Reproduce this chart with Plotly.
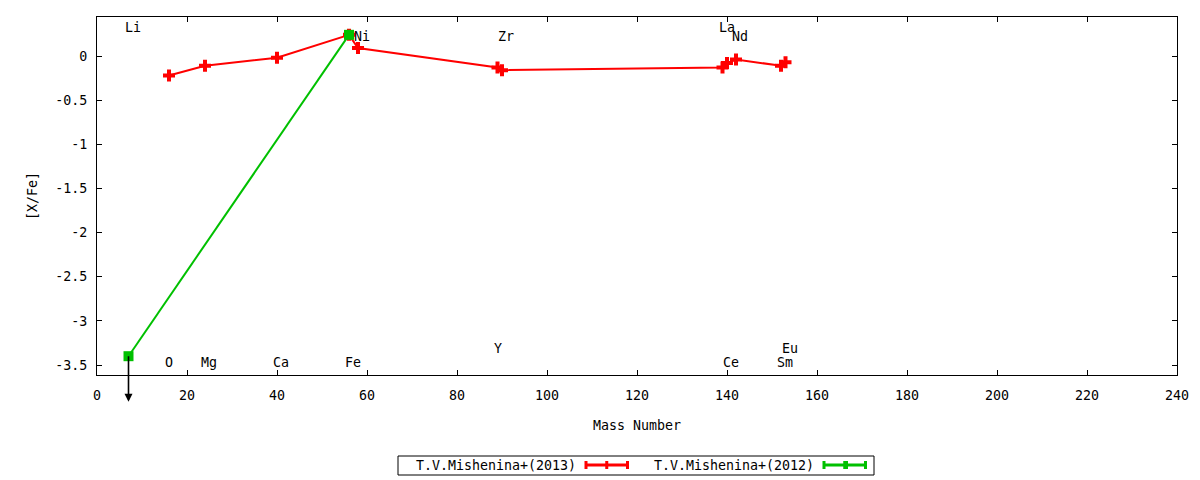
import plotly.graph_objects as go

# ---- data ----
red_name = "T.V.Mishenina+(2013)"
red_mass = [16, 24, 40, 56, 58, 89, 90, 139, 140, 142, 152, 153]
red_xfe = [-0.22, -0.11, -0.02, 0.24, 0.09, -0.13, -0.16, -0.13, -0.08, -0.04, -0.11, -0.07]

green_name = "T.V.Mishenina+(2012)"
green_mass = [7, 56]
green_xfe = [-3.40, 0.24]
green_upper_limit = [True, False]

label_names = ["Li", "O", "Mg", "Ca", "Fe", "Ni", "Y", "Zr", "La", "Ce", "Nd", "Sm", "Eu"]
label_mass = [7, 16, 24, 40, 56, 58, 89, 90, 139, 140, 142, 152, 153]
label_level = [0.32, -3.47, -3.47, -3.47, -3.47, 0.22, -3.31, 0.22, 0.32, -3.47, 0.22, -3.47, -3.31]

x_ticks = list(range(0, 241, 20))
y_ticks = [0, -0.5, -1, -1.5, -2, -2.5, -3, -3.5]
y_tick_text = ["0", "-0.5", "-1", "-1.5", "-2", "-2.5", "-3", "-3.5"]

FONT = "DejaVu Sans Mono"
FS = 13.3
RED = "#ff0000"
GREEN = "#00c000"

fig = go.Figure()
fig.add_trace(go.Scatter(
    x=red_mass, y=red_xfe, mode="lines+markers", name=red_name,
    line=dict(color=RED, width=2),
    marker=dict(symbol="cross", size=10, color=RED, line=dict(width=0)),
    showlegend=False, cliponaxis=False))
fig.add_trace(go.Scatter(
    x=green_mass, y=green_xfe, mode="lines+markers", name=green_name,
    line=dict(color=GREEN, width=2),
    marker=dict(symbol="square", size=10, color=GREEN, line=dict(width=0)),
    showlegend=False, cliponaxis=False))

# upper-limit arrows (head drawn at the tail end, 47 px below the point)
for m, v, ul in zip(green_mass, green_xfe, green_upper_limit):
    if ul:
        fig.add_annotation(x=m, y=v, xref="x", yref="y", ax=0, ay=47,
                           showarrow=True, arrowside="start",
                           startarrowhead=2, startarrowsize=1.0,
                           arrowwidth=1.6, arrowcolor="black", text="")

# element labels
for n, m, lv in zip(label_names, label_mass, label_level):
    fig.add_annotation(x=m, y=lv, xref="x", yref="y", text=n, showarrow=False,
                       xanchor="left", yanchor="middle", xshift=-6,
                       font=dict(family=FONT, size=FS, color="black"))

# ---- custom legend (text left, sample right, boxed) ----
L, T, W, H = 97, 17, 1080, 358
def px(p):
    return (p - L) / W
def py(p):
    return (T + H - p) / H

fig.add_shape(type="rect", xref="paper", yref="paper", x0=px(398), x1=px(874),
              y0=py(475), y1=py(456), line=dict(color="black", width=1))
yc = py(465)
fig.add_annotation(xref="paper", yref="paper", x=px(578), y=yc, text=red_name,
                   showarrow=False, xanchor="right", yanchor="middle",
                   font=dict(family=FONT, size=FS, color="black"))
fig.add_annotation(xref="paper", yref="paper", x=px(816), y=yc, text=green_name,
                   showarrow=False, xanchor="right", yanchor="middle",
                   font=dict(family=FONT, size=FS, color="black"))
for x0, x1, col in [(585, 628.5, RED), (823, 866.5, GREEN)]:
    fig.add_shape(type="line", xref="paper", yref="paper", x0=px(x0), x1=px(x1),
                  y0=yc, y1=yc, line=dict(color=col, width=3))
    for xe in (x0 + 1, x1 - 1, (x0 + x1) / 2):
        fig.add_shape(type="line", xref="paper", yref="paper", x0=px(xe), x1=px(xe),
                      y0=py(469), y1=py(461), line=dict(color=col, width=3))
fig.add_shape(type="line", xref="paper", yref="paper", x0=px(846.5), x1=px(846.5),
              y0=py(469), y1=py(461), line=dict(color=GREEN, width=3))

fig.update_layout(
    width=1200, height=480,
    margin=dict(l=97, r=23, t=17, b=105),
    paper_bgcolor="white", plot_bgcolor="white",
    font=dict(family=FONT, size=FS, color="black"),
    showlegend=False,
    xaxis=dict(range=[0, 240], tickvals=x_ticks, ticks="inside", ticklen=5,
               showline=True, linecolor="black", linewidth=1, mirror="ticks",
               showgrid=False, zeroline=False, tickcolor="black",
               title=dict(text="Mass Number", standoff=18,
                          font=dict(family=FONT, size=FS)),
               ticklabelstandoff=8),
    yaxis=dict(range=[-3.613, 0.442], tickvals=y_ticks, ticktext=y_tick_text,
               ticks="inside", ticklen=5,
               showline=True, linecolor="black", linewidth=1, mirror="ticks",
               showgrid=False, zeroline=False, tickcolor="black",
               title=dict(text="[X/Fe]", standoff=14,
                          font=dict(family=FONT, size=FS)),
               ticklabelstandoff=6),
)

fig.write_html("out.html", config={"displayModeBar": False},
               post_script="document.body.style.margin='0';document.body.style.overflow='hidden';")
